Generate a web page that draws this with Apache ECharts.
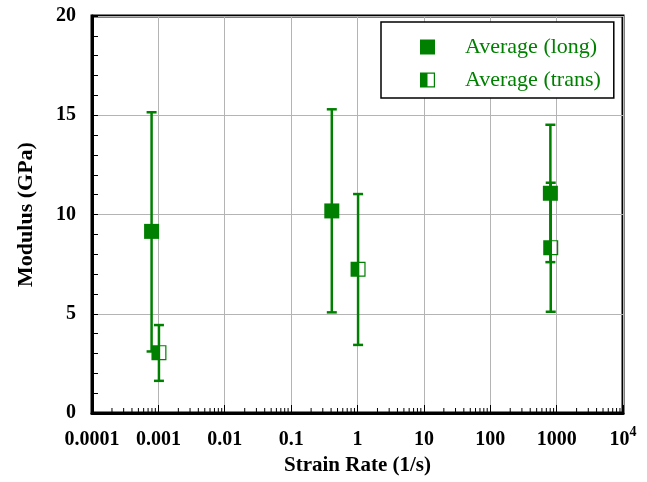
<!DOCTYPE html>
<html>
<head>
<meta charset="utf-8">
<script src="https://cdn.jsdelivr.net/npm/echarts@6/dist/echarts.min.js"></script>
<style>
  html, body { margin: 0; padding: 0; background: #fff; }
  #chart { width: 647px; height: 482px; }
</style>
</head>
<body>
<div id="chart"></div>
<script>
  // data
  var longRate = [7.9e-4, 0.41, 805]
  var longMod = [9.15, 10.18, 11.07]
  var longLow = [3.1, 5.07, 7.6]
  var longHigh = [15.15, 15.3, 14.52]

  var transRate = [1.02e-3, 1.02, 815]
  var transMod = [3.04, 7.24, 8.33]
  var transLow = [1.62, 3.43, 5.1]
  var transHigh = [4.43, 11.03, 11.6]

  var xTickLabels = ['0.0001', '0.001', '0.01', '0.1', '1', '10', '100', '1000', '{b|10}{s|4}']
  var xMinorTicks = []
  for (var d = -4; d < 4; d++) {
    for (var m = 2; m <= 9; m++) xMinorTicks.push(m * Math.pow(10, d))
  }

  var green = '#008000'
  var serif = 'Liberation Serif'
  // left half filled, right half hollow
  var halfSquare = 'path://M0,0L100,0L100,100L0,100Z M50,8L50,92L92,92L92,8Z'

  function zip(xs, ys) {
    return xs.map(function (x, i) { return [x, ys[i]] })
  }
  function errData(xs, ys, lo, hi) {
    return xs.map(function (x, i) { return [x, ys[i], lo[i], hi[i]] })
  }

  function renderErr(params, api) {
    var top = api.coord([api.value(0), api.value(3)])
    var bot = api.coord([api.value(0), api.value(2)])
    var w = 5
    var st = { stroke: green, lineWidth: 2.5 }
    return {
      type: 'group',
      children: [
        { type: 'line', shape: { x1: top[0], y1: top[1], x2: bot[0], y2: bot[1] }, style: st },
        { type: 'line', shape: { x1: top[0] - w, y1: top[1], x2: top[0] + w, y2: top[1] }, style: st },
        { type: 'line', shape: { x1: bot[0] - w, y1: bot[1], x2: bot[0] + w, y2: bot[1] }, style: st }
      ]
    }
  }

  function renderMinor(params, api) {
    var p = api.coord([api.value(0), 0])
    return {
      type: 'line',
      shape: { x1: p[0], y1: p[1], x2: p[0], y2: p[1] - 5 },
      style: { stroke: '#000', lineWidth: 1 }
    }
  }

  var chart = echarts.init(document.getElementById('chart'))

  var option = {
    animation: false,
    grid: {
      left: 92, right: 24, top: 16, bottom: 69,
      show: true, borderColor: '#000', borderWidth: 3
    },
    legend: {
      orient: 'vertical',
      left: 381, top: 22,
      padding: [14, 13, 7, 39],
      itemGap: 11,
      itemWidth: 15, itemHeight: 15,
      backgroundColor: '#fff',
      borderColor: '#000', borderWidth: 1.5,
      data: ['Average (long)', 'Average (trans)'],
      textStyle: {
        fontFamily: serif, fontSize: 22, color: green,
        lineHeight: 22, padding: [0, 0, 0, 25]
      }
    },
    xAxis: {
      type: 'log',
      logBase: 10,
      min: 1e-4,
      max: 1e4,
      name: 'Strain Rate (1/s)',
      nameLocation: 'middle',
      nameGap: 42,
      nameTextStyle: { fontFamily: serif, fontWeight: 'bold', fontSize: 21, color: '#000' },
      axisLine: { lineStyle: { color: '#000', width: 3 } },
      axisTick: { inside: true, length: 8, lineStyle: { color: '#000', width: 1 } },
      axisLabel: {
        margin: 17,
        fontFamily: serif, fontWeight: 'bold', fontSize: 20, color: '#000',
        formatter: function (v) {
          return xTickLabels[Math.round(Math.log10(v)) + 4]
        },
        rich: {
          b: { fontFamily: serif, fontWeight: 'bold', fontSize: 20, lineHeight: 20, color: '#000' },
          s: { fontFamily: serif, fontWeight: 'bold', fontSize: 14, height: 4, lineHeight: 4, verticalAlign: 'top', color: '#000' }
        }
      },
      splitLine: { show: true, lineStyle: { color: '#b4b4b4', width: 1 } }
    },
    yAxis: {
      type: 'value',
      min: 0, max: 20, interval: 5,
      name: 'Modulus (GPa)',
      nameLocation: 'middle',
      nameGap: 55,
      nameTextStyle: { fontFamily: serif, fontWeight: 'bold', fontSize: 22, color: '#000' },
      axisLine: { show: true, lineStyle: { color: '#000', width: 3 } },
      axisTick: { inside: true, length: 6, lineStyle: { color: '#000', width: 1 } },
      minorTick: { show: true, splitNumber: 5, length: 6, lineStyle: { color: '#000', width: 1 } },
      axisLabel: { margin: 16, fontFamily: serif, fontWeight: 'bold', fontSize: 20, color: '#000' },
      splitLine: { show: true, lineStyle: { color: '#b4b4b4', width: 1 } }
    },
    series: [
      {
        type: 'custom', name: 'minorX', renderItem: renderMinor,
        data: xMinorTicks.map(function (v) { return [v, 0] }),
        silent: true, z: 5
      },
      {
        type: 'custom', name: 'errLong', renderItem: renderErr,
        data: errData(longRate, longMod, longLow, longHigh), z: 2
      },
      {
        type: 'custom', name: 'errTrans', renderItem: renderErr,
        data: errData(transRate, transMod, transLow, transHigh), z: 2
      },
      {
        type: 'scatter', name: 'Average (long)',
        symbol: 'rect', symbolSize: 15,
        itemStyle: { color: green, opacity: 1 },
        data: zip(longRate, longMod), z: 3
      },
      {
        type: 'scatter', name: 'Average (trans)',
        symbol: halfSquare, symbolSize: 15,
        itemStyle: { color: green, opacity: 1 },
        data: zip(transRate, transMod), z: 3
      }
    ]
  }

  chart.setOption(option)
</script>
</body>
</html>
